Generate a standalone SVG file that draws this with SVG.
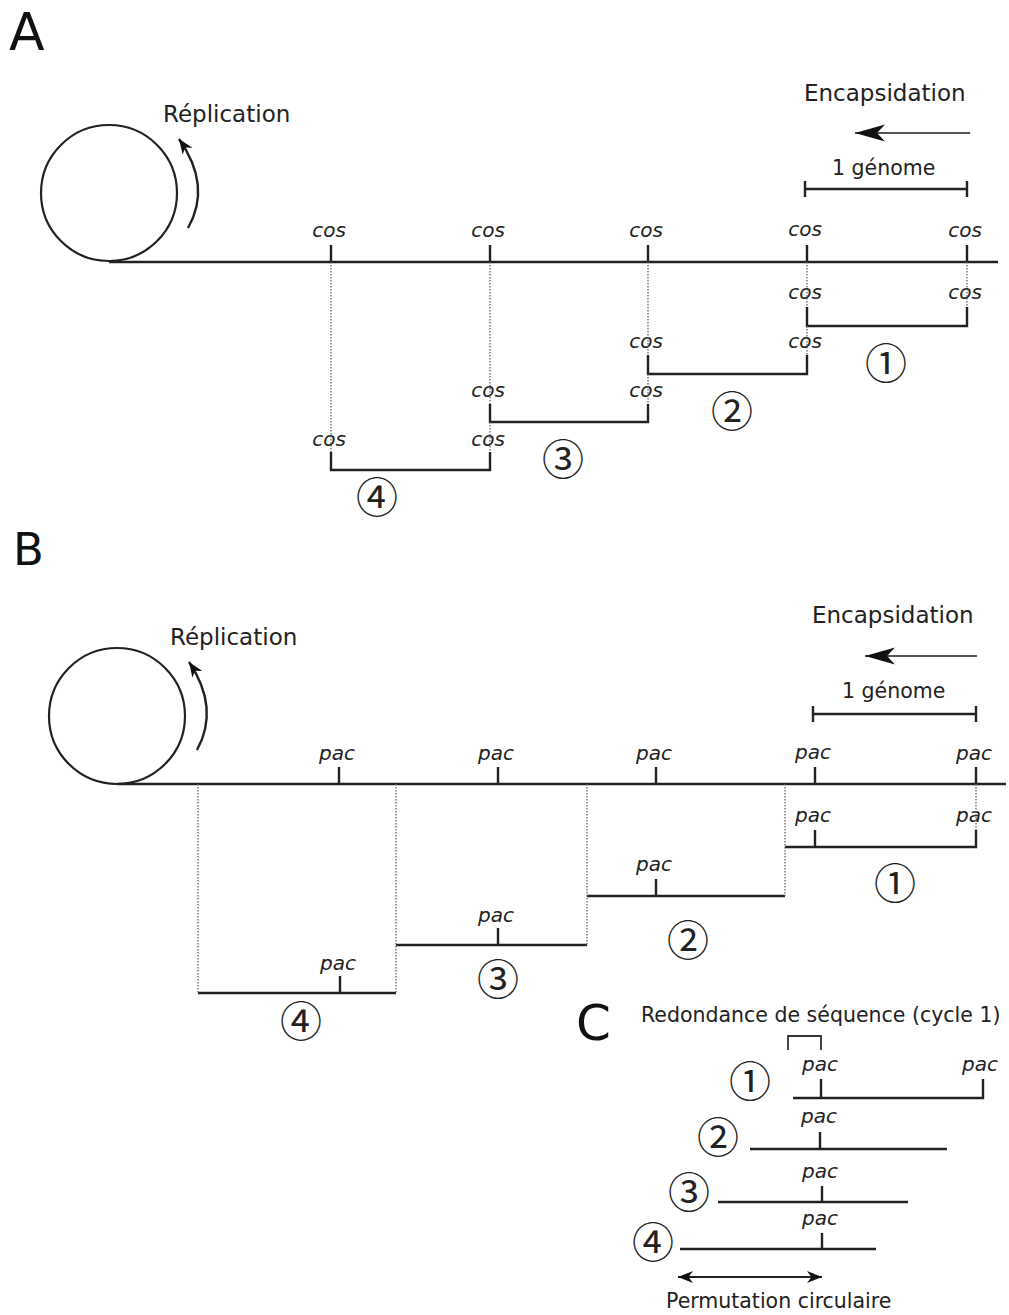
<svg xmlns="http://www.w3.org/2000/svg" width="1009" height="1315" viewBox="0 0 1009 1315">
<style>
.t{font-family:"DejaVu Sans","Noto Sans",sans-serif;fill:#222}
.big{font-size:23px}
.mid{font-size:20.5px}
.panel{font-family:"DejaVu Sans",sans-serif;fill:#111}
.site{font-family:"DejaVu Sans","Noto Sans",sans-serif;font-style:italic;font-size:20px;fill:#222;text-anchor:middle}
.num{font-family:"Noto Sans CJK JP","DejaVu Sans",sans-serif;font-size:42px;fill:#222;text-anchor:middle;dominant-baseline:central}
.ln{stroke:#222;stroke-width:2.4;fill:none}
.dot{stroke:#666;stroke-width:1.3;stroke-dasharray:1.5,1.5;fill:none}
.circ{stroke:#222;stroke-width:2.2;fill:none}
</style>
<defs>
<marker id="bigHead" markerUnits="userSpaceOnUse" markerWidth="32" markerHeight="20" refX="30" refY="10" orient="auto">
<path d="M0,1.5 L30,10 L0,18.5 L8,10 z" fill="#111"/>
</marker>
<marker id="smallHead" markerUnits="userSpaceOnUse" markerWidth="16" markerHeight="14" refX="15" refY="7" orient="auto-start-reverse">
<path d="M0,1 L15,7 L0,13 L4.5,7 z" fill="#111"/>
</marker>
</defs>

<!-- Panel A -->
<g id="labelA"><text class="panel" x="9" y="50" font-size="52">A</text></g>
<g id="circleA"><circle class="circ" cx="109" cy="193" r="68"/></g>
<g id="replicationA">
<path d="M188,228 Q212,186 179,139" class="ln" marker-end="url(#smallHead)"/>
<text class="t big" x="163" y="122">Réplication</text>
</g>
<g id="encapsidationA">
<text class="t big" x="804" y="101">Encapsidation</text>
<line x1="970" y1="133" x2="855" y2="133" stroke="#555" stroke-width="2" marker-end="url(#bigHead)"/>
</g>
<g id="genomeA">
<text class="t mid" x="832" y="175">1 génome</text>
<path class="ln" d="M805,189 H967 M805,181 V197 M967,181 V197"/>
</g>
<g id="mainlineA">
<path class="ln" d="M109,262 H998"/>
<path class="ln" d="M331,245 V262 M490,245 V262 M648,245 V262 M807,245 V262 M967,245 V262"/>
<text class="site" x="329" y="237">cos</text>
<text class="site" x="488" y="237">cos</text>
<text class="site" x="646" y="237">cos</text>
<text class="site" x="805" y="236">cos</text>
<text class="site" x="965" y="237">cos</text>
</g>
<g id="fragA1">
<path class="ln" d="M807,307 V326 H967 V307"/>
<text class="site" x="805" y="299">cos</text>
<text class="site" x="965" y="299">cos</text>
<text class="num" x="886" y="360">①</text>
</g>
<g id="fragA2">
<path class="ln" d="M648,355 V374 H807 V355"/>
<text class="site" x="646" y="348">cos</text>
<text class="site" x="805" y="348">cos</text>
<text class="num" x="732" y="408">②</text>
</g>
<g id="fragA3">
<path class="ln" d="M490,404 V422 H648 V404"/>
<text class="site" x="488" y="397">cos</text>
<text class="site" x="646" y="397">cos</text>
<text class="num" x="563" y="456">③</text>
</g>
<g id="fragA4">
<path class="ln" d="M331,452 V470 H490 V452"/>
<text class="site" x="329" y="446">cos</text>
<text class="site" x="488" y="446">cos</text>
<text class="num" x="377" y="494">④</text>
</g>

<!-- Panel B -->
<g id="labelB"><text class="panel" x="13" y="565" font-size="45">B</text></g>
<g id="circleB"><circle class="circ" cx="117" cy="716" r="68"/></g>
<g id="replicationB">
<path d="M197,750 Q220,708 189,662" class="ln" marker-end="url(#smallHead)"/>
<text class="t big" x="170" y="645">Réplication</text>
</g>
<g id="encapsidationB">
<text class="t big" x="812" y="623">Encapsidation</text>
<line x1="977" y1="656" x2="865" y2="656" stroke="#555" stroke-width="2" marker-end="url(#bigHead)"/>
</g>
<g id="genomeB">
<text class="t mid" x="842" y="698">1 génome</text>
<path class="ln" d="M813,714 H976 M813,706 V722 M976,706 V722"/>
</g>
<g id="mainlineB">
<path class="ln" d="M117,784 H1006"/>
<path class="ln" d="M339,767 V784 M498,767 V784 M656,767 V784 M815,767 V784 M976,767 V784"/>
<text class="site" x="337" y="760">pac</text>
<text class="site" x="496" y="760">pac</text>
<text class="site" x="654" y="760">pac</text>
<text class="site" x="813" y="759">pac</text>
<text class="site" x="974" y="760">pac</text>
</g>
<g id="fragB1">
<path class="ln" d="M785,847 H976 V830 M815,830 V847"/>
<text class="site" x="813" y="822">pac</text>
<text class="site" x="974" y="822">pac</text>
<text class="num" x="895" y="880">①</text>
</g>
<g id="fragB2">
<path class="ln" d="M587,896 H785 M656,879 V896"/>
<text class="site" x="654" y="871">pac</text>
<text class="num" x="688" y="937">②</text>
</g>
<g id="fragB3">
<path class="ln" d="M396,945 H587 M498,928 V945"/>
<text class="site" x="496" y="922">pac</text>
<text class="num" x="498" y="976">③</text>
</g>
<g id="fragB4">
<path class="ln" d="M198,993 H396 M340,976 V993"/>
<text class="site" x="338" y="970">pac</text>
<text class="num" x="301" y="1018">④</text>
</g>

<!-- Panel C -->
<g id="labelC"><text class="panel" x="576" y="1040" font-size="50">C</text></g>
<g id="redondance">
<text class="t mid" x="641" y="1022">Redondance de séquence (cycle 1)</text>
<path d="M788,1050 V1036 H821 V1050" stroke="#333" stroke-width="1.8" fill="none"/>
</g>
<g id="fragC1">
<path class="ln" d="M793,1098 H983 V1079 M821,1079 V1098"/>
<text class="site" x="820" y="1071">pac</text>
<text class="site" x="980" y="1071">pac</text>
<text class="num" x="750" y="1078">①</text>
</g>
<g id="fragC2">
<path class="ln" d="M750,1149 H947 M820,1132 V1149"/>
<text class="site" x="819" y="1123">pac</text>
<text class="num" x="718" y="1134">②</text>
</g>
<g id="fragC3">
<path class="ln" d="M718,1202 H908 M822,1186 V1202"/>
<text class="site" x="820" y="1178">pac</text>
<text class="num" x="689" y="1189">③</text>
</g>
<g id="fragC4">
<path class="ln" d="M680,1249 H876 M822,1233 V1249"/>
<text class="site" x="820" y="1225">pac</text>
<text class="num" x="653" y="1239">④</text>
</g>
<g id="permutation">
<line x1="678" y1="1277" x2="822" y2="1277" stroke="#222" stroke-width="1.8" marker-start="url(#smallHead)" marker-end="url(#smallHead)"/>
<text class="t mid" x="666" y="1308">Permutation circulaire</text>
</g>

<!-- connectors (dotted guides) -->
<g id="connectors">
<path class="dot" d="M331,262 V452 M490,262 V404 M490,422 V452 M648,262 V355 M648,374 V404 M807,262 V307 M807,326 V355 M967,262 V307"/>
<path class="dot" d="M198,784 V993 M396,784 V993 M587,784 V945 M785,784 V896 M976,784 V830"/>
</g>
</svg>
